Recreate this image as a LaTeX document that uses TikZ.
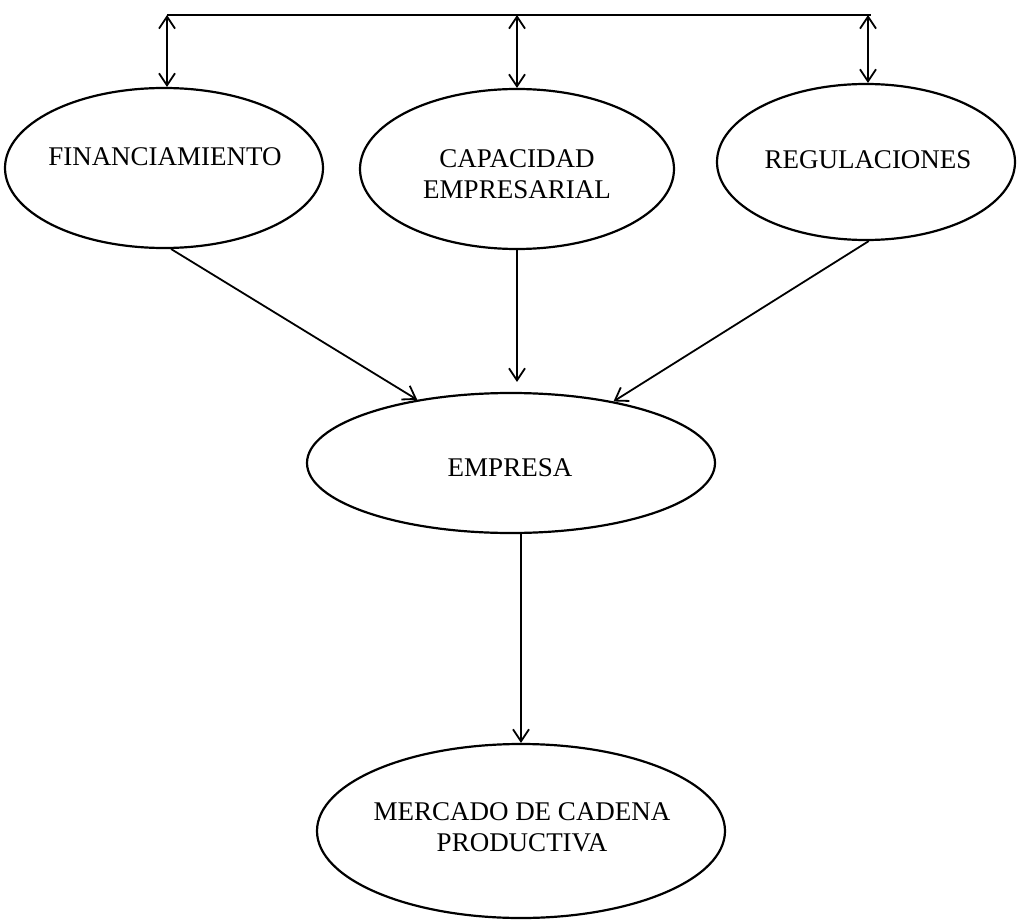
\documentclass[tikz,border=0pt]{standalone}
\usepackage{fontspec}
\setmainfont{Liberation Serif}
\usetikzlibrary{shapes.geometric,arrows.meta,calc}
\begin{document}
\begin{tikzpicture}[x=1pt,y=-1pt,
  oval/.style={draw,ellipse,line width=2.2pt,inner sep=0pt},
  txt/.style={align=center,inner sep=0pt,font=\fontsize{27}{31}\selectfont},
  barb/.tip={Straight Barb[length=12pt,width=16pt]},
  arr/.style={line width=1.8pt,-barb},
  darr/.style={line width=1.8pt,barb-barb},
  bus/.style={line width=2pt}]
\useasboundingbox (0,0) rectangle (1017,920);
% ellipses
\node[oval,minimum width=318pt,minimum height=160pt] (fin) at (164,168) {};
\node[oval,minimum width=314pt,minimum height=160pt] (cap) at (517,169) {};
\node[oval,minimum width=298pt,minimum height=156pt] (reg) at (866,162) {};
\node[oval,minimum width=408pt,minimum height=140pt] (emp) at (511,463) {};
\node[oval,minimum width=408pt,minimum height=174pt] (mer) at (521,831) {};
% texts
\node[txt] (fintxt) at (165,157) {FINANCIAMIENTO};
\node[txt] (captxt) at (517,174) {CAPACIDAD\\EMPRESARIAL};
\node[txt] (regtxt) at (868,160) {REGULACIONES};
\node[txt] (emptxt) at (510,468) {EMPRESA};
\node[txt] (mertxt) at (522,827) {MERCADO DE CADENA\\PRODUCTIVA};
% top bus
\coordinate (t1) at (167,15);
\coordinate (t2) at (517,15);
\coordinate (t3) at (868,15);
\coordinate (tend) at (871,15);
\draw[bus] (t1) -- (tend);
\draw[darr] (t1) -- (t1 |- fin.north);
\draw[darr] (t2) -- (t2 |- cap.north);
\draw[darr] (t3) -- (t3 |- reg.north);
% arrows to EMPRESA
\draw[arr] (fin.-85) -- (emp.146);
\draw[arr, shorten >=10pt] (cap.south) -- (cap.south |- emp.north);
\draw[arr] (reg.-88) -- (emp.31);
% arrow to MERCADO
\draw[arr] (emp.south -| mer.north) -- (mer.north);
\end{tikzpicture}
\end{document}
